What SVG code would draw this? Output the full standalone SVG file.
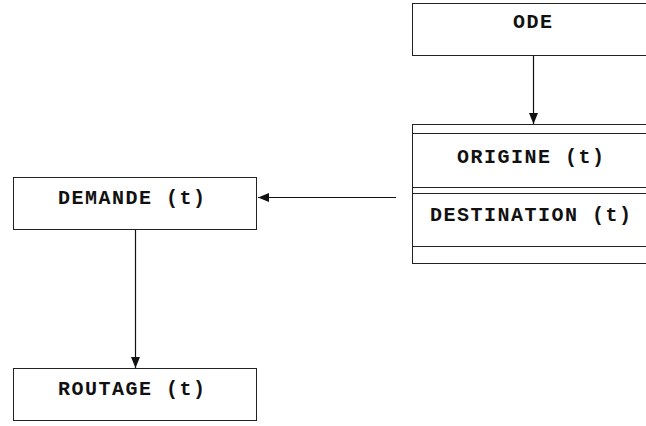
<svg xmlns="http://www.w3.org/2000/svg" width="646" height="426" viewBox="0 0 646 426">
<defs>
<style>
.box{fill:#fff;stroke:#222;stroke-width:1}
.ln{stroke:#111;stroke-width:1.2;fill:none}
.t{font-family:"Liberation Mono","Courier New",monospace;font-weight:bold;font-size:20px;letter-spacing:1.5px;fill:#111}
</style>
<marker id="ah" markerWidth="12" markerHeight="12" refX="11" refY="6" orient="auto" markerUnits="userSpaceOnUse">
<path d="M0,1.5 L11,6 L0,10.5 Z" fill="#111"/>
</marker>
</defs>
<rect width="646" height="426" fill="#fff"/>
<g id="ODE">
<rect class="box" x="412.5" y="3.5" width="250" height="52"/>
<text class="t" x="513" y="28">ODE</text>
</g>
<g id="ORIGINE_DESTINATION">
<rect class="box" x="412.5" y="124.5" width="250" height="139"/>
<line class="box" x1="412" y1="133.5" x2="646" y2="133.5"/>
<line class="box" x1="412" y1="187.5" x2="646" y2="187.5"/>
<line class="box" x1="412" y1="193.5" x2="646" y2="193.5"/>
<line class="box" x1="412" y1="246.5" x2="646" y2="246.5"/>
<text class="t" x="457" y="163">ORIGINE (t)</text>
<text class="t" x="430" y="221">DESTINATION (t)</text>
</g>
<g id="DEMANDE">
<rect class="box" x="13.5" y="177.5" width="243" height="52"/>
<text class="t" x="58" y="204">DEMANDE (t)</text>
</g>
<g id="ROUTAGE">
<rect class="box" x="13.5" y="368.5" width="243" height="52"/>
<text class="t" x="58" y="395">ROUTAGE (t)</text>
</g>
<g id="connectors">
<line class="ln" x1="533.5" y1="56" x2="533.5" y2="124" marker-end="url(#ah)"/>
<line class="ln" x1="396" y1="197.5" x2="258" y2="197.5" marker-end="url(#ah)"/>
<line class="ln" x1="135.5" y1="230" x2="135.5" y2="368" marker-end="url(#ah)"/>
</g>
</svg>
